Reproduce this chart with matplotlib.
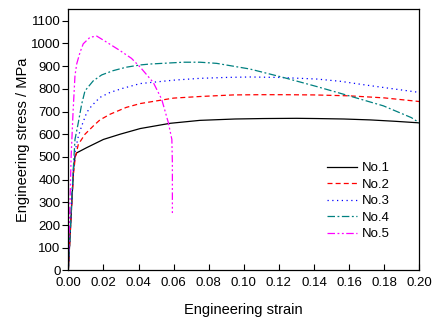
import matplotlib
matplotlib.use("Agg")
import matplotlib.pyplot as plt

plt.rcParams['font.family'] = ['Liberation Sans', 'DejaVu Sans']

# Engineering stress-strain curves for five specimens
strain_1 = [0, 0.001, 0.002, 0.003, 0.0038, 0.0048, 0.0105, 0.020, 0.0295, 0.041,
            0.058, 0.075, 0.095, 0.111, 0.13, 0.1415, 0.157, 0.172, 0.186, 0.2]
stress_1 = [0, 150, 300, 450, 500, 518, 541, 577, 600, 625,
            648, 661, 667, 669, 670, 669, 667, 663, 657, 650]

strain_2 = [0, 0.001, 0.002, 0.003, 0.004, 0.0057, 0.0095, 0.0142, 0.018, 0.0238, 0.033,
            0.041, 0.0465, 0.06, 0.075, 0.094, 0.11, 0.1225, 0.14, 0.16, 0.18, 0.2]
stress_2 = [0, 150, 300, 430, 500, 555, 600, 636, 663, 688, 718,
            735, 742, 759, 766, 773, 774, 774, 773, 769, 760, 744]

strain_3 = [0, 0.001, 0.002, 0.003, 0.004, 0.0057, 0.0076, 0.0105, 0.0133, 0.018, 0.0238,
            0.031, 0.041, 0.06, 0.075, 0.09, 0.1035, 0.12, 0.1415, 0.155, 0.170, 0.185, 0.2]
stress_3 = [0, 160, 320, 450, 530, 590, 636, 696, 725, 762, 784,
            802, 823, 838, 846, 850, 852, 850, 843, 833, 816, 800, 784]

strain_4 = [0, 0.001, 0.002, 0.003, 0.0038, 0.0057, 0.0076, 0.0095, 0.0142, 0.019, 0.0256,
            0.033, 0.041, 0.0465, 0.0655, 0.075, 0.0845, 0.1035, 0.1225, 0.1415, 0.160,
            0.1795, 0.1955, 0.2]
stress_4 = [0, 160, 320, 470, 577, 651, 732, 791, 835, 861, 880,
            895, 905, 909, 917, 917, 912, 887, 850, 810, 769,
            725, 673, 650]

strain_5 = [0, 0.0008, 0.0016, 0.0027, 0.0038, 0.0048, 0.0067, 0.0085, 0.0124, 0.0162,
            0.0219, 0.0295, 0.036, 0.041, 0.0484, 0.0532, 0.057, 0.059, 0.0593, 0.0593]
stress_5 = [0, 250, 500, 697, 858, 910, 961, 998, 1027, 1032,
            1005, 968, 934, 895, 828, 754, 651, 577, 474, 253]

labels = ['No.1', 'No.2', 'No.3', 'No.4', 'No.5']
x_ticks = [0.00, 0.02, 0.04, 0.06, 0.08, 0.10, 0.12, 0.14, 0.16, 0.18, 0.20]
y_ticks = [0, 100, 200, 300, 400, 500, 600, 700, 800, 900, 1000, 1100]

fig = plt.figure(figsize=(4.43, 3.25), dpi=100)
ax = fig.add_axes([0.1542, 0.1677, 0.7923, 0.8037])

ax.plot(strain_1, stress_1, color='black', lw=0.9, ls='-', label=labels[0])
ax.plot(strain_2, stress_2, color='#ff0000', lw=0.9, ls=(0, (4, 2.5)), label=labels[1])
ax.plot(strain_3, stress_3, color='#0000ff', lw=0.9, ls=(0, (1, 2.8)), label=labels[2])
ax.plot(strain_4, stress_4, color='#008080', lw=0.9, ls=(0, (6, 2, 1.5, 2)), label=labels[3])
ax.plot(strain_5, stress_5, color='#ff00ff', lw=0.9,
        ls=(0, (6, 2, 1.5, 2, 1.5, 2)), label=labels[4])

ax.set_xlim(0, 0.2)
ax.set_ylim(0, 1150)
ax.set_xticks(x_ticks)
ax.set_xticklabels([f'{v:.2f}' for v in x_ticks])
ax.set_yticks(y_ticks)
ax.tick_params(axis='x', direction='in', length=4, width=0.8, labelsize=9.5, pad=5)
ax.tick_params(axis='y', direction='out', length=4, width=0.8, labelsize=9.5, pad=1.5)
for s in ax.spines.values():
    s.set_linewidth(0.9)

ax.set_xlabel('Engineering strain', fontsize=10.5, labelpad=10)
ax.set_ylabel('Engineering stress / MPa', fontsize=10.5, labelpad=1)

ax.legend(loc='upper left', bbox_to_anchor=(0.737, 0.415), frameon=False,
          fontsize=9.5, handlelength=2.3, handletextpad=0.35, labelspacing=0.32,
          borderpad=0, borderaxespad=0)

fig.savefig('out.png', dpi=100)
